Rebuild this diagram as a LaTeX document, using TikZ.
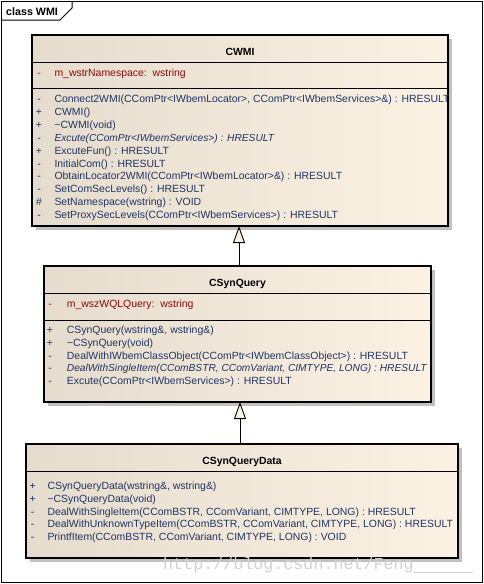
\documentclass[tikz,border=0pt]{standalone}
\usepackage{fontspec}
\setmainfont{Liberation Sans}
\newfontfamily\wmfont{Liberation Mono}
\usetikzlibrary{arrows.meta}
\definecolor{boxleft}{HTML}{E5DCCD}
\definecolor{boxright}{HTML}{FCF2E4}
\definecolor{shadowgray}{HTML}{C0C0C0}
\definecolor{methcol}{HTML}{1F3466}
\definecolor{attrcol}{HTML}{8B0A0A}
\definecolor{attrvis}{HTML}{C01010}
\definecolor{wmgray}{HTML}{D2D2D2}
\newcommand{\umlrow}[6][]{%
  \node[vis,#1] (#2v) at (#3,#5) {\vphantom{A}\makebox[0pt]{#6}};}
\newcommand{\umltext}[5][]{%
  \node[mtext,#1] (#2) at (#3,#4) {#5};}
\begin{document}
\begin{tikzpicture}[x=1pt,y=-1pt,
  classbox/.style={draw=black,line width=1.1pt,left color=boxleft,right color=boxright,
    anchor=north west,inner sep=0pt,outer sep=0pt},
  shadowbox/.style={fill=shadowgray,draw=none,anchor=north west,inner sep=0pt,outer sep=0pt},
  divider/.style={draw=black,line width=1pt},
  vis/.style={anchor=base,inner sep=0pt,font=\fontsize{10.45}{12}\selectfont,text=methcol},
  mtext/.style={anchor=base west,inner sep=0pt,font=\fontsize{10.45}{12}\selectfont,text=methcol},
  attr/.style={text=attrcol},
  attrv/.style={text=attrvis},
  ital/.style={font=\fontsize{10.2}{12}\selectfont\itshape},
  cname/.style={anchor=base,inner sep=0pt,font=\fontsize{10.4}{12}\selectfont\bfseries,text=black},
  gen/.style={draw=black,line width=0.9pt,-{Triangle[length=17pt,width=12pt,fill=boxright,line width=0.9pt]}},
  frameline/.style={draw=black,line width=1pt}]
\useasboundingbox (0,0) rectangle (484,584);
\fill[white] (0,0) rectangle (484,584);
% frame
\draw[frameline] (1,1) rectangle (482,582);
\draw[frameline] (1,20) -- (60,20) -- (72,8) -- (72,1);
\node[anchor=base west,inner sep=0pt,font=\fontsize{10.7}{12}\selectfont\bfseries] (frametitle) at (6,15) {class WMI};

% ---------- CWMI ----------
\node[shadowbox,minimum width=416pt,minimum height=191pt] (cwmishadow) at (36,39) {};
\node[classbox,minimum width=416pt,minimum height=191pt] (cwmi) at (32,35) {};
\draw[divider] (cwmi.west |- 0,62) -- (cwmi.east |- 0,62);
\draw[divider] (cwmi.west |- 0,88) -- (cwmi.east |- 0,88);
\node[cname] (cwminame) at (240,55) {CWMI};
\umlrow[attrv]{a1}{39}{0}{76.5}{-}
\umltext[attr]{a1t}{54.3}{76.5}{m\_wstrNamespace:\ \ wstring}
\umlrow{m1}{39}{0}{102.5}{-}
\umltext{m1t}{54.3}{102.5}{Connect2WMI(CComPtr<IWbemLocator>, CComPtr<IWbemServices>\&) : HRESULT}
\umlrow{m2}{39}{0}{115.4}{+}
\umltext{m2t}{54.3}{115.4}{CWMI()}
\umlrow{m3}{39}{0}{128.3}{+}
\umltext{m3t}{54.3}{128.3}{\textasciitilde CWMI(void)}
\umlrow{m4}{39}{0}{141.2}{-}
\umltext[ital]{m4t}{54.3}{141.2}{Excute(CComPtr<IWbemServices>) : HRESULT}
\umlrow{m5}{39}{0}{154.1}{+}
\umltext{m5t}{54.3}{154.1}{ExcuteFun() : HRESULT}
\umlrow{m6}{39}{0}{167.0}{-}
\umltext{m6t}{54.3}{167.0}{InitialCom() : HRESULT}
\umlrow{m7}{39}{0}{179.9}{-}
\umltext{m7t}{54.3}{179.9}{ObtainLocator2WMI(CComPtr<IWbemLocator>\&) : HRESULT}
\umlrow{m8}{39}{0}{192.8}{-}
\umltext{m8t}{54.3}{192.8}{SetComSecLevels() : HRESULT}
\umlrow{m9}{39}{0}{205.7}{\#}
\umltext{m9t}{54.3}{205.7}{SetNamespace(wstring) : VOID}
\umlrow{m10}{39}{0}{218.6}{-}
\umltext{m10t}{54.3}{218.6}{SetProxySecLevels(CComPtr<IWbemServices>) : HRESULT}

% ---------- CSynQuery ----------
\node[shadowbox,minimum width=387pt,minimum height=136pt] (csqshadow) at (48,270) {};
\node[classbox,minimum width=387pt,minimum height=136pt] (csq) at (44,266) {};
\draw[divider] (csq.west |- 0,293) -- (csq.east |- 0,293);
\draw[divider] (csq.west |- 0,320) -- (csq.east |- 0,320);
\node[cname] (csqname) at (237.5,286) {CSynQuery};
\umlrow[attrv]{b1}{50}{0}{307.5}{-}
\umltext[attr]{b1t}{66.7}{307.5}{m\_wszWQLQuery:\ \ wstring}
\umlrow{q1}{50}{0}{333.5}{+}
\umltext{q1t}{66.7}{333.5}{CSynQuery(wstring\&, wstring\&)}
\umlrow{q2}{50}{0}{346.3}{+}
\umltext{q2t}{66.7}{346.3}{\textasciitilde CSynQuery(void)}
\umlrow{q3}{50}{0}{359.1}{-}
\umltext{q3t}{66.7}{359.1}{DealWithIWbemClassObject(CComPtr<IWbemClassObject>) : HRESULT}
\umlrow{q4}{50}{0}{371.9}{-}
\umltext[ital]{q4t}{66.7}{371.9}{DealWithSingleItem(CComBSTR, CComVariant, CIMTYPE, LONG) : HRESULT}
\umlrow{q5}{50}{0}{384.7}{-}
\umltext{q5t}{66.7}{384.7}{Excute(CComPtr<IWbemServices>) : HRESULT}

% ---------- CSynQueryData ----------
\node[shadowbox,minimum width=432pt,minimum height=114pt] (csqdshadow) at (30,448) {};
\node[classbox,minimum width=432pt,minimum height=114pt] (csqd) at (26,444) {};
\draw[divider] (csqd.west |- 0,471) -- (csqd.east |- 0,471);
\node[cname] (csqdname) at (242,464) {CSynQueryData};
\umlrow{d1}{32.7}{0}{489.5}{+}
\umltext{d1t}{47.3}{489.5}{CSynQueryData(wstring\&, wstring\&)}
\umlrow{d2}{32.7}{0}{502.3}{+}
\umltext{d2t}{47.3}{502.3}{\textasciitilde CSynQueryData(void)}
\umlrow{d3}{32.7}{0}{515.1}{-}
\umltext{d3t}{47.3}{515.1}{DealWithSingleItem(CComBSTR, CComVariant, CIMTYPE, LONG) : HRESULT}
\umlrow{d4}{32.7}{0}{527.9}{-}
\umltext{d4t}{47.3}{527.9}{DealWithUnknownTypeItem(CComBSTR, CComVariant, CIMTYPE, LONG) : HRESULT}
\umlrow{d5}{32.7}{0}{540.7}{-}
\umltext{d5t}{47.3}{540.7}{PrintfItem(CComBSTR, CComVariant, CIMTYPE, LONG) : VOID}

% ---------- generalizations ----------
\coordinate (g1s) at (239,266);
\coordinate (g1e) at (239,226);
\draw[gen] (g1s) -- (g1e);
\coordinate (g2s) at (240,444);
\coordinate (g2e) at (240,402);
\draw[gen] (g2s) -- (g2e);

% ---------- watermark ----------
\node[anchor=base west,inner sep=0pt,font=\wmfont\fontsize{16.7}{18}\selectfont,text=wmgray] (wm) at (163,569) {http://blog.csdn.net/Feng};
\draw[wmgray,line width=0.8pt] (wm.base east) ++(0,3) -- (473,572);
\end{tikzpicture}
\end{document}
